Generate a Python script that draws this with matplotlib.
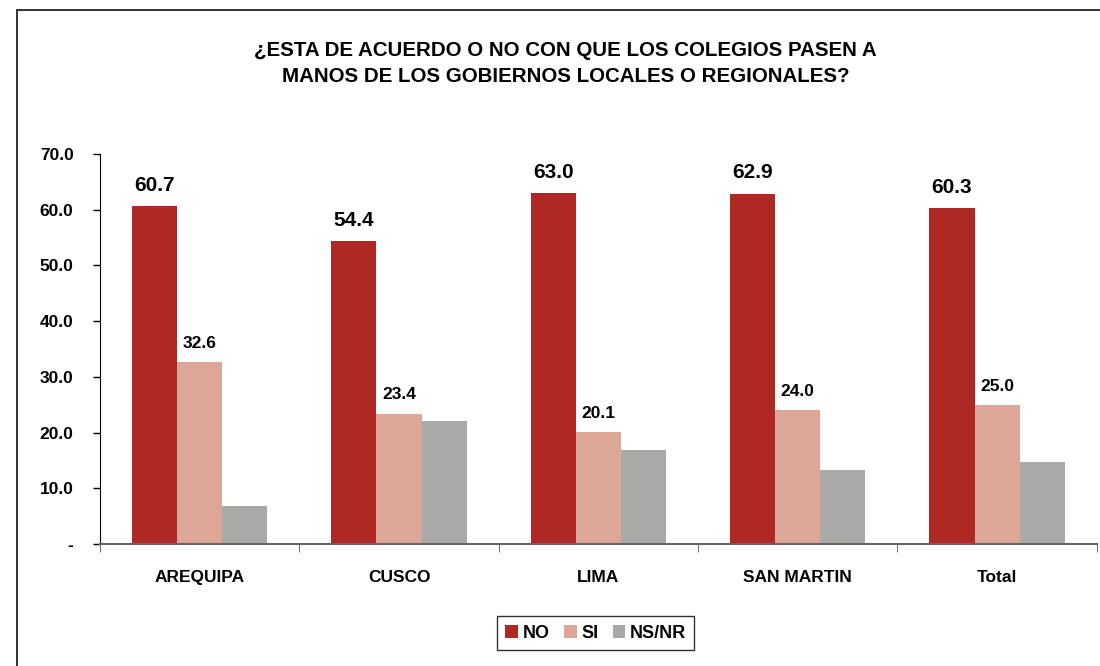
import numpy as np
import matplotlib.pyplot as plt
from matplotlib.patches import Rectangle
from matplotlib.ticker import FixedLocator, NullFormatter

plt.rcParams['font.family'] = ['Liberation Sans Narrow', 'Liberation Sans', 'DejaVu Sans']

categories = ['AREQUIPA', 'CUSCO', 'LIMA', 'SAN MARTIN', 'Total']
no_vals = [60.7, 54.4, 63.0, 62.9, 60.3]
si_vals = [32.6, 23.4, 20.1, 24.0, 25.0]
nsnr_vals = [6.8, 22.1, 16.9, 13.3, 14.7]
series_names = ['NO', 'SI', 'NS/NR']
colors = ['#AE2824', '#DDA797', '#A9A9A7']
yticks = [0, 10, 20, 30, 40, 50, 60, 70]
ytick_labels = ['-', '10.0', '20.0', '30.0', '40.0', '50.0', '60.0', '70.0']
title = '¿ESTA DE ACUERDO O NO CON QUE LOS COLEGIOS PASEN A\nMANOS DE LOS GOBIERNOS LOCALES O REGIONALES?'

fig = plt.figure(figsize=(11, 6.66), dpi=100)
ax = fig.add_axes([0.0909, 0.1832, 0.9061, 0.5856])

x = np.arange(len(categories))
w = 0.226
series = [no_vals, si_vals, nsnr_vals]
for i, vals in enumerate(series):
    ax.bar(x + (i - 1) * w, vals, w, color=colors[i], label=series_names[i], zorder=2)

for xi, v in zip(x, no_vals):
    ax.text(xi - w, v + 2.0, f'{v:.1f}', ha='center', va='bottom',
            fontsize=15, fontweight='bold')
for xi, v in zip(x, si_vals):
    ax.text(xi, v + 2.0, f'{v:.1f}', ha='center', va='bottom',
            fontsize=12.5, fontweight='bold')

ax.set_xlim(-0.5, len(categories) - 0.5)
ax.set_ylim(0, 70)
ax.set_yticks(yticks)
ax.set_yticklabels(ytick_labels, fontsize=12.5, fontweight='bold')
ax.tick_params(axis='y', direction='out', length=5, pad=14, width=1)

ax.set_xticks(x)
ax.set_xticklabels(categories, fontsize=12.5, fontweight='bold')
ax.tick_params(axis='x', which='major', length=0, pad=19)
ax.xaxis.set_minor_locator(FixedLocator(np.arange(len(categories) + 1) - 0.5))
ax.xaxis.set_minor_formatter(NullFormatter())
ax.tick_params(axis='x', which='minor', direction='out', length=6, color='#555555')

ax.spines['top'].set_visible(False)
ax.spines['right'].set_visible(False)
ax.spines['bottom'].set_color('#666666')
ax.spines['bottom'].set_linewidth(1.5)
ax.spines['left'].set_color('black')

fig.text(0.514, 0.905, title, ha='center', va='center', fontsize=14.8,
         fontweight='bold', linespacing=1.45)

leg = fig.legend(loc='center', bbox_to_anchor=(0.5415, 0.0495), ncol=3,
                 prop={'weight': 'bold', 'size': 13},
                 frameon=True, fancybox=False, edgecolor='black',
                 handlelength=0.7, handleheight=0.7, handletextpad=0.25,
                 columnspacing=0.8, borderpad=0.45, borderaxespad=0.2)
leg.get_frame().set_linewidth(1.0)

# outer frame of the chart (cropped on the right and bottom)
fig.patches.append(Rectangle((17 / 1100, -0.05), 1.2, 1 - 10 / 666 + 0.05,
                             transform=fig.transFigure, fill=False,
                             edgecolor='#222222', linewidth=1.3))

fig.savefig('out.png', dpi=100)
